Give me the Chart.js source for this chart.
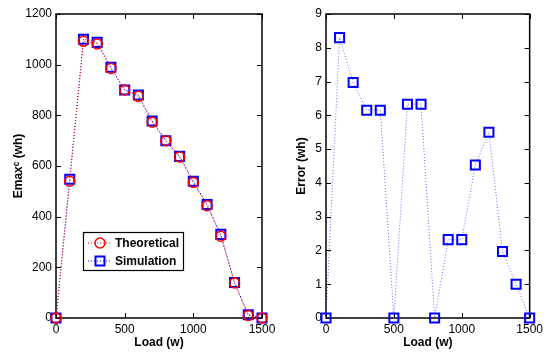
<!DOCTYPE html>
<html><head><meta charset="utf-8">
<script src="https://cdn.jsdelivr.net/npm/chart.js@4/dist/chart.umd.min.js"></script>
<style>
html,body{margin:0;padding:0;background:#fff;width:547px;height:356px;overflow:hidden;position:relative}
canvas{position:absolute;top:0}
#c1{left:0}
#c2{left:270px}
</style></head>
<body>
<canvas id="c1" width="285" height="356"></canvas>
<canvas id="c2" width="277" height="356"></canvas>
<script>
const loads = [0,100,200,300,400,500,600,700,800,900,1000,1100,1200,1300,1400,1500];
const theoretical = [0,540,1092,1082,985,900,875,773,700,636,535,443,323,138,10,0];
const simulation = [0,548,1100,1088,990,900,880,778,700,638,540,448,330,140,13,0];
const errorVals = [0,8.3,6.97,6.15,6.15,0,6.33,6.33,0,2.32,2.32,4.53,5.5,1.97,1.0,0];
const xTicks = [0,500,1000,1500];
const yTicksLeft = [0,200,400,600,800,1000,1200];
const yTicksRight = [0,1,2,3,4,5,6,7,8,9];
const legendLabels = ['Theoretical','Simulation'];

const FONT = 'Liberation Sans, Arial, Helvetica, sans-serif';

function pts(xs, ys){ return xs.map((x,i)=>({x:x,y:ys[i]})); }

const boxPlugin = {
  id:'box',
  beforeDatasetsDraw(chart){
    const {ctx, chartArea:a, scales:{x,y}} = chart;
    ctx.save();
    ctx.strokeStyle='#000';
    ctx.lineWidth=1;
    ctx.beginPath();
    x.ticks.forEach(t=>{const p=Math.round(x.getPixelForValue(t.value))+0.5;
      ctx.moveTo(p,a.bottom); ctx.lineTo(p,a.bottom-5);
      ctx.moveTo(p,a.top); ctx.lineTo(p,a.top+5);});
    y.ticks.forEach(t=>{const p=Math.round(y.getPixelForValue(t.value))+0.5;
      ctx.moveTo(a.left,p); ctx.lineTo(a.left+5,p);
      ctx.moveTo(a.right,p); ctx.lineTo(a.right-5,p);});
    ctx.stroke();
    ctx.lineWidth=1.5;
    ctx.strokeRect(a.left,a.top,a.right-a.left,a.bottom-a.top);
    ctx.restore();
  }
};

const legendPlugin = {
  id:'mleg',
  afterDraw(chart, args, opts){
    if(!opts || !opts.show) return;
    const ctx = chart.ctx;
    const bx=83, by=232, bw=100, bh=38;
    ctx.save();
    ctx.fillStyle='#fff';
    ctx.fillRect(bx,by,bw,bh);
    ctx.strokeStyle='#000'; ctx.lineWidth=1.2;
    ctx.strokeRect(bx+0.5,by+0.5,bw,bh);
    const rows=[{y:by+11, c:'#ff0000', shape:'circle'},{y:by+29, c:'#0000ff', shape:'rect'}];
    rows.forEach((r,i)=>{
      ctx.strokeStyle=r.c; ctx.lineWidth=1; ctx.setLineDash([1,2]);
      ctx.beginPath(); ctx.moveTo(bx+5,r.y); ctx.lineTo(bx+28,r.y); ctx.stroke();
      ctx.setLineDash([]);
      if(r.shape==='circle'){ ctx.lineWidth=1.5; ctx.beginPath(); ctx.arc(bx+17,r.y,5,0,Math.PI*2); ctx.stroke(); }
      else { ctx.lineWidth=2; ctx.strokeRect(bx+12.5,r.y-4.5,9,9); }
      ctx.fillStyle='#000'; ctx.font='bold 12px '+FONT; ctx.textBaseline='middle';
      ctx.fillText(legendLabels[i], bx+32, r.y+1);
    });
    ctx.restore();
  }
};

function axes(ymax, yticks, ytitle, titleOffset){
  return {
    x:{type:'linear',min:0,max:1500,
       afterBuildTicks(s){ s.ticks = xTicks.map(v=>({value:v})); },
       afterFit(s){ s.height=38; },
       grid:{display:false,drawTicks:false}, border:{display:false},
       ticks:{padding:4,color:'#000',font:{family:FONT,size:12},maxRotation:0,callback:v=>String(v)},
       title:{display:true,text:'Load (w)',color:'#000',font:{family:FONT,size:12,weight:'bold'},padding:{top:1,bottom:6}}},
    y:{type:'linear',min:0,max:ymax,
       afterBuildTicks(s){ s.ticks = yticks.map(v=>({value:v})); },
       afterFit(s){ s.width=56; },
       grid:{display:false,drawTicks:false}, border:{display:false},
       ticks:{padding:4,color:'#000',font:{family:FONT,size:12},callback:v=>String(v)},
       title:{display:true,text:ytitle,color:'#000',font:{family:FONT,size:12,weight:'bold'},padding:{top:titleOffset,bottom:4}}}
  };
}

new Chart(document.getElementById('c1'),{
  type:'line',
  data:{datasets:[
    {label:legendLabels[0],data:pts(loads,theoretical),borderColor:'#ff0000',borderWidth:1,borderDash:[1,2],
     pointStyle:'circle',pointRadius:5,pointBorderWidth:1.5,pointBorderColor:'#ff0000',pointBackgroundColor:'rgba(0,0,0,0)',fill:false,clip:false,tension:0},
    {label:legendLabels[1],data:pts(loads,simulation),borderColor:'#0000ff',borderWidth:1,borderDash:[1,2],
     pointStyle:'rect',pointRadius:6.4,pointBorderWidth:2,pointBorderColor:'#0000ff',pointBackgroundColor:'rgba(0,0,0,0)',fill:false,clip:false,tension:0}
  ]},
  options:{responsive:false,animation:false,devicePixelRatio:1,
    layout:{padding:{left:0,top:14,right:23,bottom:0}},
    plugins:{legend:{display:false},tooltip:{enabled:false},mleg:{show:true}},
    scales:axes(1200,yTicksLeft,'Emaxᶜ (wh)',11)},
  plugins:[boxPlugin,legendPlugin]
});

new Chart(document.getElementById('c2'),{
  type:'line',
  data:{datasets:[
    {label:'Error',data:pts(loads,errorVals),borderColor:'rgba(60,60,255,0.75)',borderWidth:1,borderDash:[1,2],
     pointStyle:'rect',pointRadius:6.4,pointBorderWidth:2,pointBorderColor:'#0000ff',pointBackgroundColor:'rgba(0,0,0,0)',fill:false,clip:false,tension:0}
  ]},
  options:{responsive:false,animation:false,devicePixelRatio:1,
    layout:{padding:{left:0,top:14,right:15,bottom:0}},
    plugins:{legend:{display:false},tooltip:{enabled:false},mleg:{show:false}},
    scales:axes(9,yTicksRight,'Error (wh)',24)},
  plugins:[boxPlugin,legendPlugin]
});
</script>
</body></html>
